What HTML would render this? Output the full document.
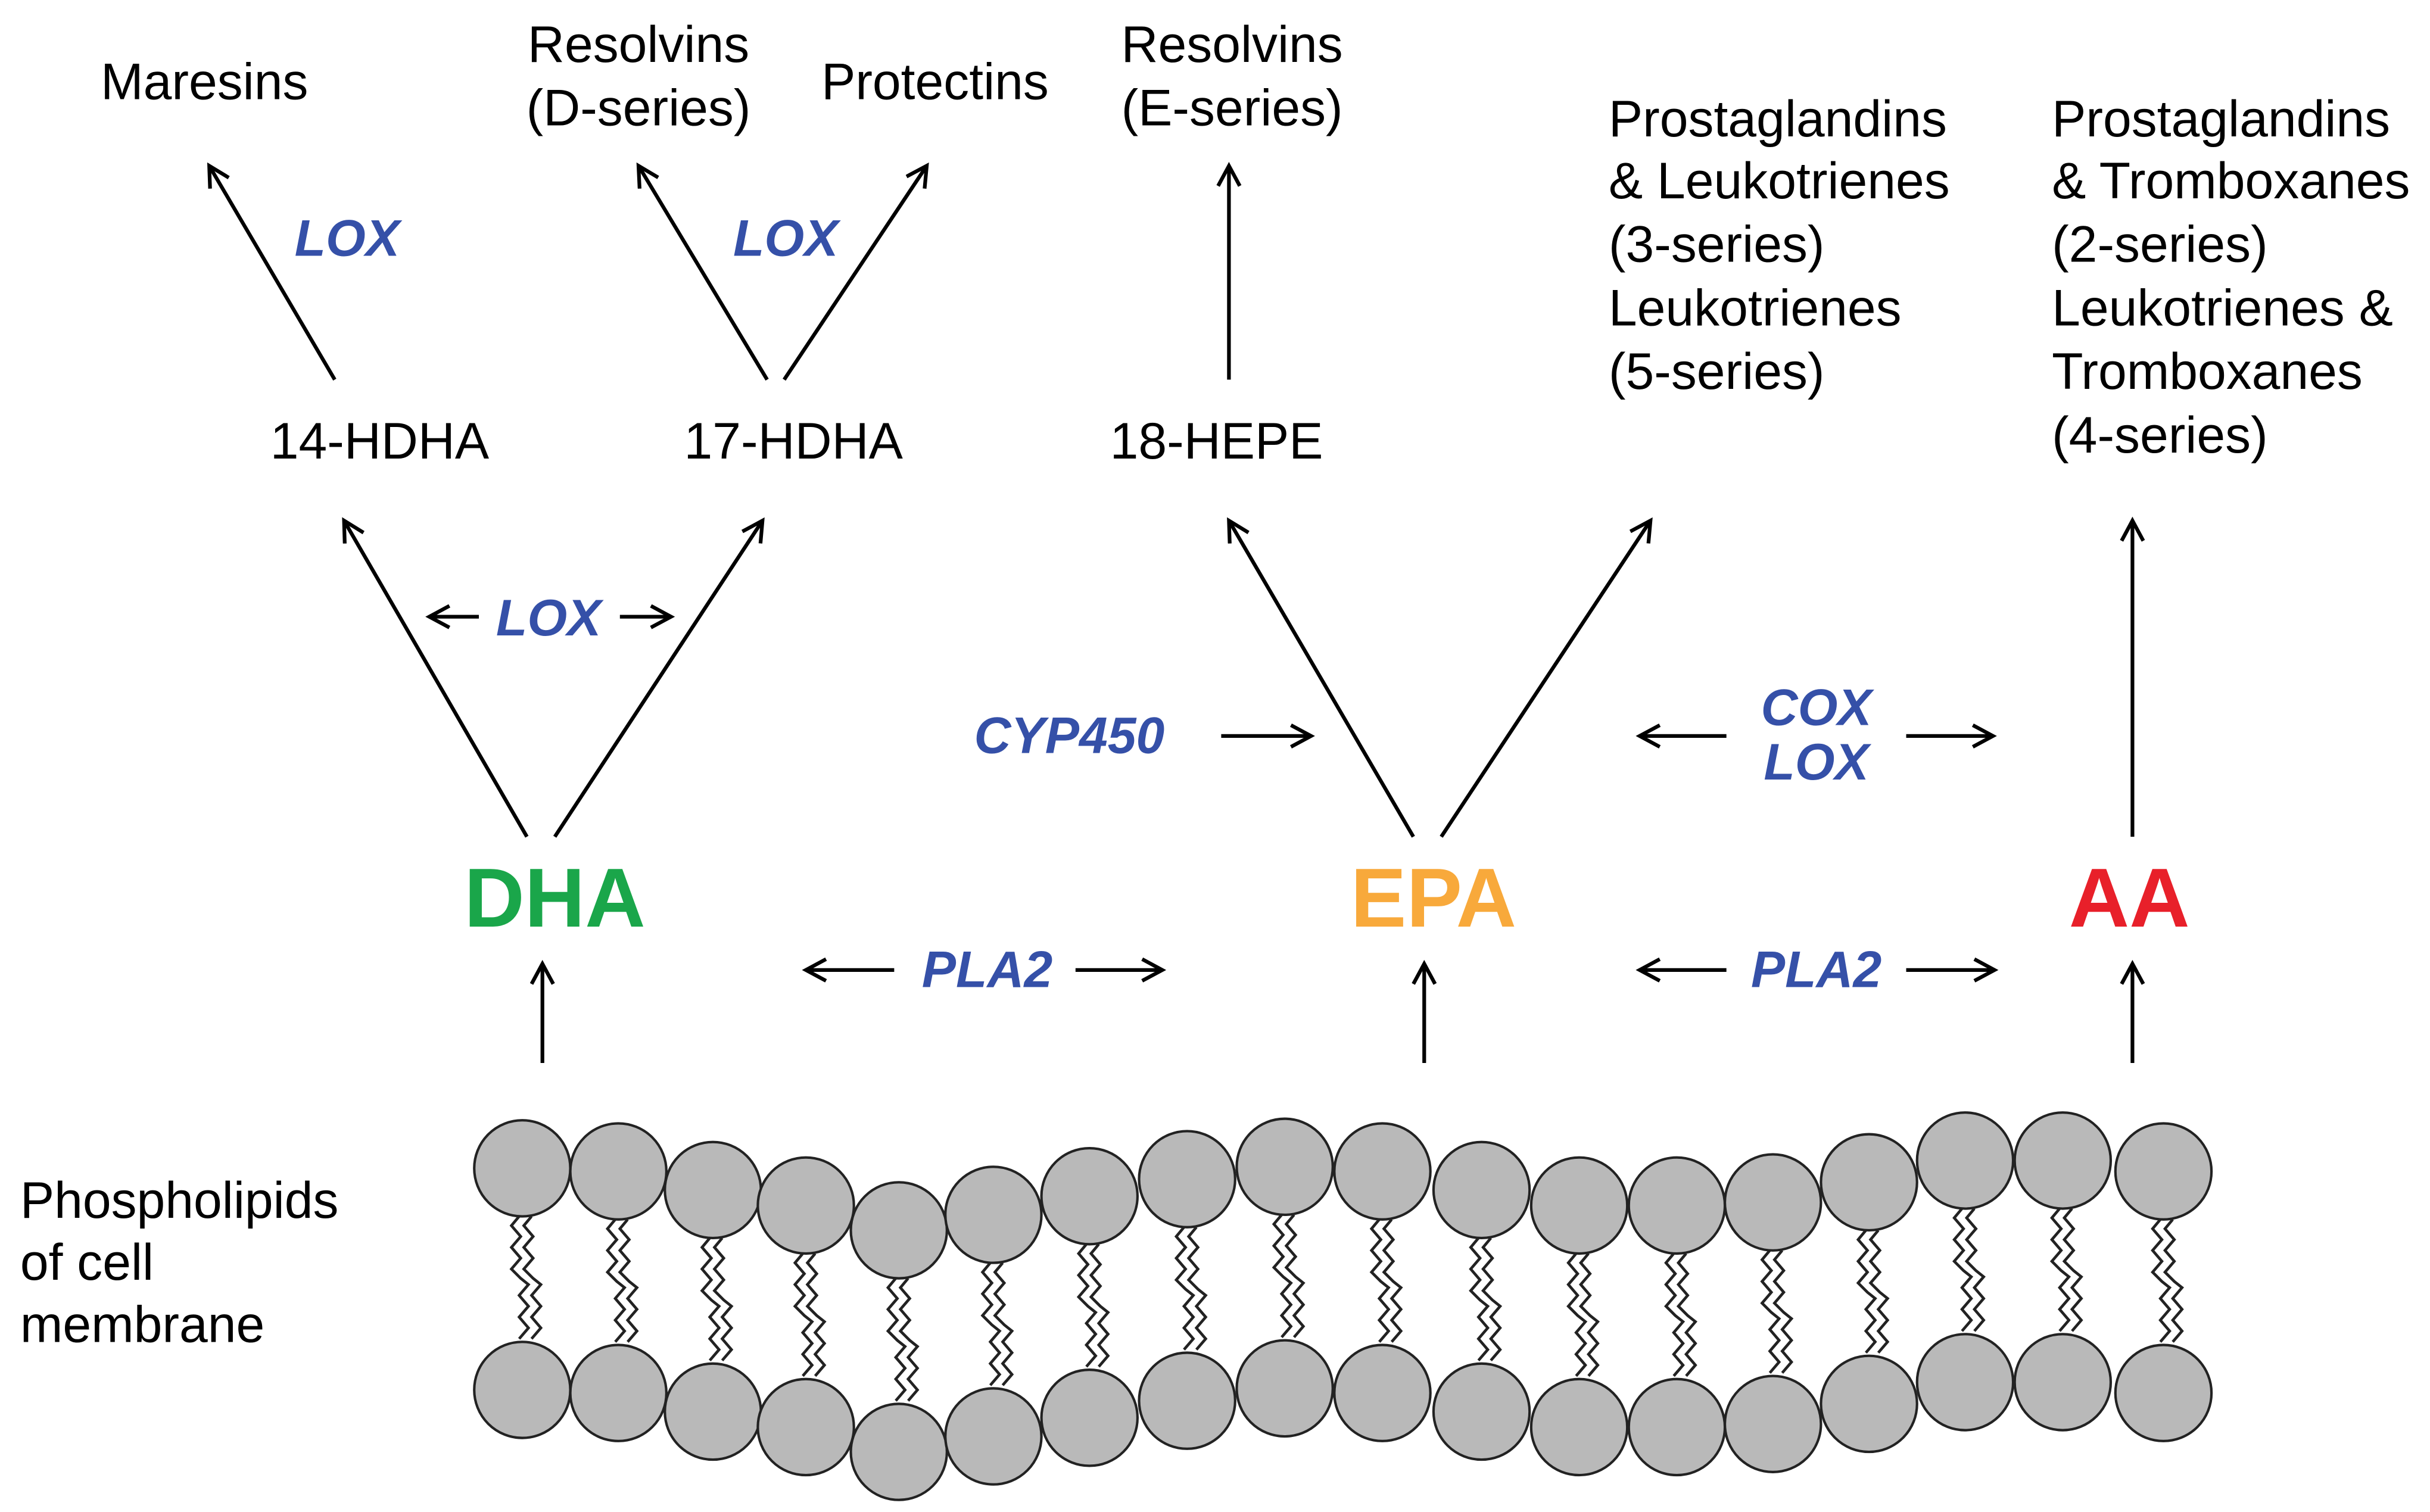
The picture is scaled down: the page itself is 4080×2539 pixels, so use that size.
<!DOCTYPE html>
<html><head><meta charset="utf-8"><style>
html,body{margin:0;padding:0;background:#fff;}
svg{display:block;}
text{font-family:"Liberation Sans",Arial,sans-serif;}
.t{font-size:33px;fill:#000;}
.b{font-size:33px;fill:#3550a8;font-weight:bold;font-style:italic;}
.big{font-size:54px;font-weight:bold;}
</style></head><body>
<svg width="4080" height="2539" viewBox="0 0 1568 975.8" preserveAspectRatio="none" xmlns="http://www.w3.org/2000/svg">
<defs>
<marker id="a" markerWidth="20" markerHeight="20" refX="14" refY="8" orient="auto" markerUnits="userSpaceOnUse">
<path d="M1,1 L14,8 L1,15" fill="none" stroke="#000" stroke-width="2.4"/>
</marker>
<g id="tail" fill="none" stroke="#222" stroke-width="1.8">
<polyline points="-2,0 -7,6 -1,13 -7,20 -1,27 -7,34 -1,40 4,44 -2,51 4,58 -2,65 4,72 -2,79"/>
<polyline points="6,0 1,6 7,13 1,20 7,27 1,34 7,40 12,44 6,51 12,58 6,65 12,72 6,79"/>
</g>
</defs>
<rect width="1568" height="976" fill="#fff"/>
<g stroke="#000" stroke-width="2.4" fill="none" marker-end="url(#a)">
<line x1="216" y1="245" x2="135" y2="107"/>
<line x1="495" y1="245" x2="412" y2="107"/>
<line x1="506" y1="245" x2="598" y2="107"/>
<line x1="793" y1="245" x2="793" y2="107"/>
<line x1="340" y1="540" x2="222" y2="336"/>
<line x1="358" y1="540" x2="492" y2="336"/>
<line x1="912" y1="540" x2="793" y2="336"/>
<line x1="930" y1="540" x2="1065" y2="336"/>
<line x1="1376" y1="540" x2="1376" y2="336"/>
<line x1="350" y1="686" x2="350" y2="622"/>
<line x1="919" y1="686" x2="919" y2="622"/>
<line x1="1376" y1="686" x2="1376" y2="622"/>
<line x1="309" y1="398" x2="277" y2="398"/>
<line x1="400" y1="398" x2="433" y2="398"/>
<line x1="788" y1="475" x2="846" y2="475"/>
<line x1="1114" y1="475" x2="1058" y2="475"/>
<line x1="1230" y1="475" x2="1286" y2="475"/>
<line x1="577" y1="626" x2="520" y2="626"/>
<line x1="694" y1="626" x2="750" y2="626"/>
<line x1="1114" y1="626" x2="1058" y2="626"/>
<line x1="1230" y1="626" x2="1287" y2="626"/>
</g>
<text class="t" x="65" y="64">Maresins</text>
<text class="t" x="412" y="40" text-anchor="middle">Resolvins</text>
<text class="t" x="412" y="81" text-anchor="middle">(D-series)</text>
<text class="t" x="530" y="64">Protectins</text>
<text class="t" x="795" y="40" text-anchor="middle">Resolvins</text>
<text class="t" x="795" y="81" text-anchor="middle">(E-series)</text>
<text class="t" x="1038" y="88">Prostaglandins</text>
<text class="t" x="1038" y="128">&amp; Leukotrienes</text>
<text class="t" x="1038" y="169">(3-series)</text>
<text class="t" x="1038" y="210">Leukotrienes</text>
<text class="t" x="1038" y="251">(5-series)</text>
<text class="t" x="1324" y="88">Prostaglandins</text>
<text class="t" x="1324" y="128">&amp; Tromboxanes</text>
<text class="t" x="1324" y="169">(2-series)</text>
<text class="t" x="1324" y="210">Leukotrienes &amp;</text>
<text class="t" x="1324" y="251">Tromboxanes</text>
<text class="t" x="1324" y="292">(4-series)</text>
<text class="t" x="245" y="296" text-anchor="middle">14-HDHA</text>
<text class="t" x="512" y="296" text-anchor="middle">17-HDHA</text>
<text class="t" x="785" y="296" text-anchor="middle">18-HEPE</text>
<text class="b" x="224" y="165" text-anchor="middle">LOX</text>
<text class="b" x="507" y="165" text-anchor="middle">LOX</text>
<text class="b" x="354" y="410" text-anchor="middle">LOX</text>
<text class="b" x="690" y="486" text-anchor="middle">CYP450</text>
<text class="b" x="1172" y="468" text-anchor="middle">COX</text>
<text class="b" x="1172" y="503" text-anchor="middle">LOX</text>
<text class="b" x="637" y="637" text-anchor="middle">PLA2</text>
<text class="b" x="1172" y="637" text-anchor="middle">PLA2</text>
<text class="big" x="358" y="598" text-anchor="middle" fill="#1aa64a">DHA</text>
<text class="big" x="925" y="598" text-anchor="middle" fill="#f8a93b">EPA</text>
<text class="big" x="1374" y="598" text-anchor="middle" fill="#e8202a">AA</text>
<text class="t" x="13" y="786">Phospholipids</text>
<text class="t" x="13" y="826">of cell</text>
<text class="t" x="13" y="866">membrane</text>
<g>
<use href="#tail" x="337" y="785"/><use href="#tail" x="399" y="787"/><use href="#tail" x="460" y="799"/><use href="#tail" x="520" y="809"/><use href="#tail" x="580" y="825"/><use href="#tail" x="641" y="815"/><use href="#tail" x="703" y="803"/><use href="#tail" x="766" y="792"/><use href="#tail" x="829" y="784"/><use href="#tail" x="892" y="787"/><use href="#tail" x="956" y="799"/><use href="#tail" x="1019" y="809"/><use href="#tail" x="1082" y="809"/><use href="#tail" x="1144" y="807"/><use href="#tail" x="1206" y="794"/><use href="#tail" x="1268" y="780"/><use href="#tail" x="1331" y="780"/><use href="#tail" x="1396" y="787"/>
</g>
<g fill="#b9b9b9" stroke="#222" stroke-width="1.6">
<circle cx="337" cy="754" r="31"/><circle cx="399" cy="756" r="31"/><circle cx="460" cy="768" r="31"/><circle cx="520" cy="778" r="31"/><circle cx="580" cy="794" r="31"/><circle cx="641" cy="784" r="31"/><circle cx="703" cy="772" r="31"/><circle cx="766" cy="761" r="31"/><circle cx="829" cy="753" r="31"/><circle cx="892" cy="756" r="31"/><circle cx="956" cy="768" r="31"/><circle cx="1019" cy="778" r="31"/><circle cx="1082" cy="778" r="31"/><circle cx="1144" cy="776" r="31"/><circle cx="1206" cy="763" r="31"/><circle cx="1268" cy="749" r="31"/><circle cx="1331" cy="749" r="31"/><circle cx="1396" cy="756" r="31"/>
<circle cx="337" cy="897" r="31"/><circle cx="399" cy="899" r="31"/><circle cx="460" cy="911" r="31"/><circle cx="520" cy="921" r="31"/><circle cx="580" cy="937" r="31"/><circle cx="641" cy="927" r="31"/><circle cx="703" cy="915" r="31"/><circle cx="766" cy="904" r="31"/><circle cx="829" cy="896" r="31"/><circle cx="892" cy="899" r="31"/><circle cx="956" cy="911" r="31"/><circle cx="1019" cy="921" r="31"/><circle cx="1082" cy="921" r="31"/><circle cx="1144" cy="919" r="31"/><circle cx="1206" cy="906" r="31"/><circle cx="1268" cy="892" r="31"/><circle cx="1331" cy="892" r="31"/><circle cx="1396" cy="899" r="31"/>
</g>
</svg>
</body></html>
